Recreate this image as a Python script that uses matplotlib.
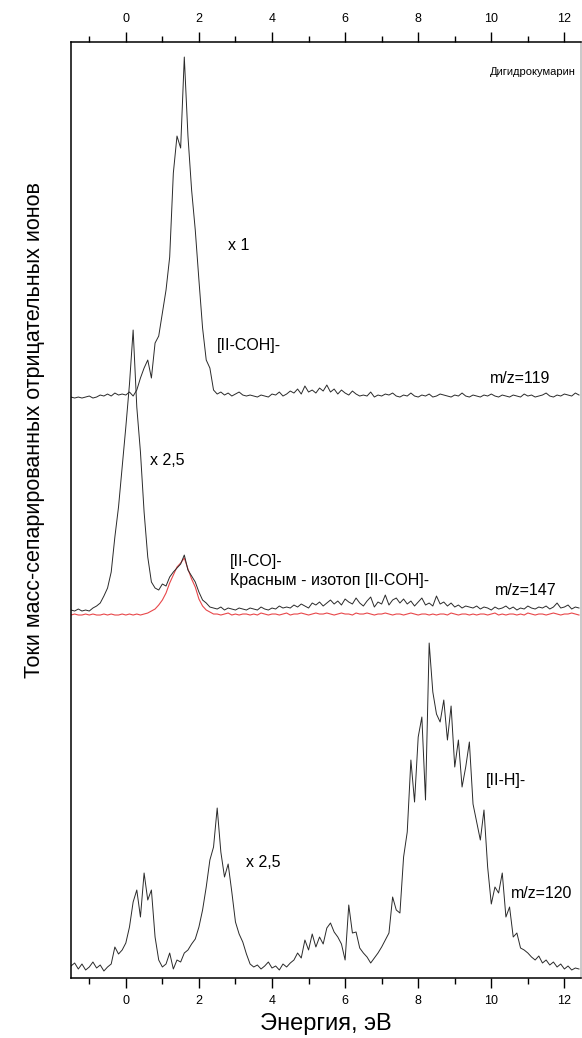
import numpy as np
import matplotlib
matplotlib.use("Agg")
import matplotlib.pyplot as plt
from matplotlib.ticker import MultipleLocator

plt.rcParams['font.family'] = ['Liberation Sans', 'DejaVu Sans']

# энергия, эВ: шаг 0.1 от -1.5 до 12.4
energy = np.round(np.arange(140) * 0.1 - 1.5, 2)

# m/z=119  [II-COH]-  (x 1)
mz119 = [1, 0, 1, 0, 1, 2, 0, 1, 3, 2,
         4, 2, 5, 3, 4, 3, 6, 2, 8, 20,
         30, 38, 20, 55, 62, 85, 108, 141, 225, 262,
         250, 341, 262, 208, 168, 118, 70, 38, 30, 8,
         4, 6, 3, 5, 2, 4, 6, 3, 2, 3,
         2, 1, 3, 2, 1, 4, 3, 6, 2, 4,
         7, 5, 9, 4, 12, 6, 8, 5, 10, 7,
         13, 6, 9, 4, 8, 5, 3, 7, 4, 2,
         3, 2, 6, 1, 3, 2, 4, 3, 5, 2,
         1, 3, 2, 5, 2, 1, 3, 2, 4, 1,
         2, 4, 3, 2, 1, 3, 2, 5, 2, 1,
         3, 2, 1, 3, 2, 4, 2, 1, 3, 2,
         1, 3, 2, 1, 4, 2, 3, 1, 2, 3,
         5, 2, 1, 3, 2, 4, 3, 2, 5, 3]

# m/z=147  [II-CO]-  (x 2,5)
mz147 = [2, 1, 3, 1, 2, 1, 4, 6, 9, 16,
         24, 40, 75, 105, 145, 185, 228, 282, 205, 160,
         100, 55, 30, 24, 22, 28, 26, 35, 40, 44,
         48, 57, 42, 36, 30, 20, 12, 9, 5, 4,
         3, 5, 2, 4, 3, 2, 4, 3, 2, 4,
         3, 2, 5, 3, 2, 4, 3, 6, 4, 5,
         4, 7, 5, 8, 6, 4, 9, 7, 10, 6,
         9, 12, 8, 11, 7, 13, 10, 8, 14, 9,
         6, 11, 15, 5, 10, 8, 17, 7, 12, 14,
         9, 13, 8, 11, 6, 10, 14, 7, 9, 6,
         16, 8, 10, 6, 9, 5, 7, 4, 6, 5,
         4, 6, 3, 5, 4, 2, 5, 3, 4, 6,
         3, 5, 2, 4, 3, 6, 4, 3, 5, 4,
         6, 3, 5, 9, 4, 5, 7, 3, 5, 4]

# изотоп [II-COH]- (красный)
isotope = [0, 1, 0, 0, 1, 0, 1, 0, 0, 1,
           0, 1, 0, 0, 1, 0, 1, 0, 1, 0,
           1, 2, 4, 6, 10, 15, 22, 32, 40, 48,
           52, 57, 46, 36, 28, 16, 9, 5, 3, 1,
           1, 0, 1, 2, 0, 1, 0, 1, 1, 0,
           1, 0, 2, 1, 0, 1, 1, 0, 1, 2,
           0, 1, 1, 2, 1, 0, 1, 2, 1, 1,
           2, 1, 0, 1, 2, 1, 1, 0, 2, 1,
           1, 2, 1, 0, 1, 1, 2, 1, 0, 1,
           1, 0, 1, 2, 1, 0, 1, 1, 0, 1,
           0, 1, 1, 0, 2, 1, 0, 1, 1, 0,
           1, 0, 1, 1, 0, 1, 2, 0, 1, 0,
           1, 1, 0, 1, 0, 2, 1, 0, 1, 1,
           0, 1, 2, 1, 0, 1, 1, 2, 1, 0]

# m/z=120  [II-H]-  (x 2,5)
mz120 = [6, 9, 3, 8, 2, 5, 10, 4, 7, 1,
         5, 8, 25, 18, 22, 29, 45, 70, 82, 55,
         99, 72, 82, 35, 12, 5, 8, 19, 3, 12,
         10, 19, 22, 28, 33, 45, 62, 85, 112, 125,
         164, 120, 95, 108, 80, 50, 38, 30, 18, 8,
         5, 7, 3, 6, 10, 4, 6, 2, 8, 5,
         9, 12, 19, 14, 32, 22, 38, 25, 35, 28,
         44, 49, 40, 35, 28, 12, 67, 39, 40, 24,
         19, 15, 9, 14, 19, 25, 32, 39, 75, 62,
         59, 115, 140, 212, 170, 235, 255, 172, 329, 280,
         258, 250, 272, 232, 266, 205, 232, 185, 205, 230,
         168, 150, 132, 162, 105, 68, 85, 79, 99, 55,
         65, 35, 39, 24, 22, 19, 15, 12, 16, 9,
         12, 7, 10, 5, 8, 3, 6, 2, 4, 3]

# сдвиги базовых линий
off119 = 580
off147 = 366
off_iso = 363
off120 = 6

fig = plt.figure(figsize=(5.82, 10.38), dpi=100)
ax = fig.add_axes([0.122, 0.0578, 0.876, 0.9017])

ax.plot(energy, np.array(mz119) + off119, color='#2a2a2a', lw=0.7)
ax.plot(energy, np.array(isotope) + off_iso, color='#e8474a', lw=0.8)
ax.plot(energy, np.array(mz147) + off147, color='#2a2a2a', lw=0.7)
ax.plot(energy, np.array(mz120) + off120, color='#2a2a2a', lw=0.7)

ax.set_xlim(-1.5, 12.45)
ax.set_ylim(0, 936)
ax.set_yticks([])
ax.xaxis.set_major_locator(MultipleLocator(2))
ax.xaxis.set_minor_locator(MultipleLocator(1))
ax.tick_params(axis='x', which='both', direction='out', top=True, labeltop=True,
               labelsize=9, pad=5)
ax.tick_params(axis='x', which='major', length=7, width=1)
ax.tick_params(axis='x', which='minor', length=4, width=1)
for s in ax.spines.values():
    s.set_linewidth(1.1)
ax.spines['right'].set_color('#bbbbbb')

ax.set_xlabel('Энергия, эВ', fontsize=17)
ax.xaxis.set_label_coords(0.5, -0.037)
ax.set_ylabel('Токи масс-сепарированных отрицательных ионов', fontsize=15.5)
ax.yaxis.set_label_coords(-0.051, 0.585)

fs = 11.5
ax.text(9.95, 906, 'Дигидрокумарин', fontsize=8, va='center')
ax.text(2.79, 733, 'x 1', fontsize=fs, va='center')
ax.text(2.49, 633, '[II-COH]-', fontsize=fs, va='center')
ax.text(9.95, 600, 'm/z=119', fontsize=fs, va='center')
ax.text(0.66, 518, 'x 2,5', fontsize=fs, va='center')
ax.text(2.84, 417, '[II-CO]-', fontsize=fs, va='center')
ax.text(2.84, 398, 'Красным - изотоп [II-COH]-', fontsize=fs, va='center')
ax.text(10.1, 388, 'm/z=147', fontsize=fs, va='center')
ax.text(9.84, 198, '[II-H]-', fontsize=fs, va='center')
ax.text(3.3, 116, 'x 2,5', fontsize=fs, va='center')
ax.text(10.55, 85, 'm/z=120', fontsize=fs, va='center')

fig.savefig('out.png', dpi=100)
